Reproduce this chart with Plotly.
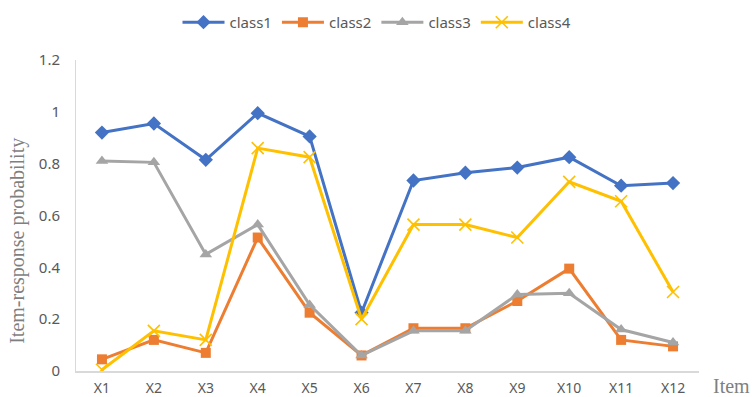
import plotly.graph_objects as go

items = ["X1", "X2", "X3", "X4", "X5", "X6", "X7", "X8", "X9", "X10", "X11", "X12"]
class1 = [0.92, 0.955, 0.815, 0.995, 0.905, 0.225, 0.735, 0.765, 0.785, 0.825, 0.715, 0.725]
class2 = [0.045, 0.12, 0.07, 0.515, 0.225, 0.06, 0.165, 0.165, 0.27, 0.395, 0.12, 0.095]
class3 = [0.81, 0.805, 0.45, 0.565, 0.255, 0.06, 0.155, 0.155, 0.295, 0.30, 0.16, 0.11]
class4 = [0.005, 0.155, 0.12, 0.86, 0.825, 0.20, 0.565, 0.565, 0.515, 0.73, 0.655, 0.305]
y_ticks = [0, 0.2, 0.4, 0.6, 0.8, 1, 1.2]
y_ticktext = ["0", "0.2", "0.4", "0.6", "0.8", "1", "1.2"]

series = [
    ("class1", class1, "#4472C4", "diamond", 11),
    ("class2", class2, "#ED7D31", "square", 10),
    ("class3", class3, "#A5A5A5", "triangle-up", 11),
    ("class4", class4, "#FFC000", "x-thin", 12),
]

fig = go.Figure()
for name, vals, color, sym, size in series:
    marker = dict(symbol=sym, size=size, color=color)
    if sym == "x-thin":
        marker["line"] = dict(color=color, width=1.6)
    fig.add_trace(go.Scatter(
        x=items, y=vals, name=name, mode="lines+markers",
        line=dict(color=color, width=3), marker=marker,
    ))

fig.update_layout(
    width=754, height=397,
    margin=dict(l=76, r=55, t=60, b=26, autoexpand=False),
    paper_bgcolor="white", plot_bgcolor="white",
    font=dict(family="Noto Sans", color="#595959", size=14),
    legend=dict(orientation="h", x=0.5, xanchor="center", xref="container",
                y=0.985, yanchor="top", yref="container",
                font=dict(size=15, color="#595959"),
                itemwidth=42, traceorder="normal"),
    xaxis=dict(showline=True, linecolor="#D9D9D9", linewidth=1.5, showgrid=False,
               ticks="", ticklabelstandoff=3, automargin=False,
               tickfont=dict(size=14, color="#595959"), range=[-0.5, 11.5]),
    yaxis=dict(showline=True, linecolor="#D9D9D9", linewidth=1, showgrid=False,
               range=[0, 1.2], tickvals=y_ticks, ticktext=y_ticktext, ticks="",
               ticklabelstandoff=12, tickfont=dict(size=15, color="#595959"),
               zeroline=False, automargin=False),
    annotations=[
        dict(text="Item-response probability", textangle=-90,
             xref="paper", yref="paper", x=-0.094, y=0.42,
             xanchor="center", yanchor="middle", showarrow=False,
             font=dict(family="Liberation Serif", size=20, color="#7F7F7F")),
        dict(text="Item", xref="paper", yref="paper", x=1.0, y=0,
             xanchor="left", yanchor="top", yshift=-2, xshift=12, showarrow=False,
             font=dict(family="Liberation Serif", size=20, color="#7F7F7F")),
    ],
)

fig.write_html("out.html")
